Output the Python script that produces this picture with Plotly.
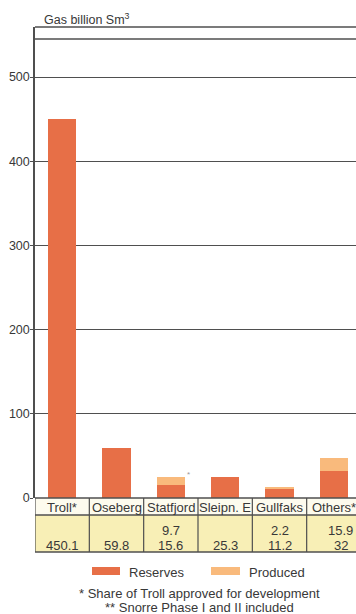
import plotly.graph_objects as go

# Gas reserves by field (billion Sm3)
fields = ["Troll*", "Oseberg", "Statfjord", "Sleipn. E", "Gullfaks", "Others*"]
reserves = [450.1, 59.8, 15.6, 25.3, 11.2, 32]
produced = [None, None, 9.7, None, 2.2, 15.9]
y_ticks = [0, 100, 200, 300, 400, 500]

title_text = "Gas billion Sm<sup>3</sup>"
legend_names = ["Reserves", "Produced"]
footnotes = ["* Share of Troll approved for development",
             "** Snorre Phase I and II included"]

C_RES = "#e76f47"
C_PROD = "#f9ba7c"
C_TABLE = "#f8efb6"
C_HEAD = "#fdfbee"
C_LINE = "#4f4f4f"
C_TEXT = "#383838"
FONT = "Liberation Sans, Arial, sans-serif"

W, H = 356, 614
M_L, M_R, M_T, M_B = 35, 0, 27, 116
PLOT_H = H - M_T - M_B
PLOT_W = W - M_L - M_R


def py(p):
    """pixel row -> paper y"""
    return (H - M_B - p) / PLOT_H


def px(p):
    """pixel column -> paper x"""
    return (p - M_L) / PLOT_W


def label(x, y, text, xref="paper", size=13, xanchor="center", color=C_TEXT, xshift=0):
    return dict(x=x, y=y, xref=xref, yref="paper", text=text, showarrow=False,
                xanchor=xanchor, yanchor="middle", xshift=xshift,
                font=dict(size=size, color=color, family=FONT))


idx = list(range(len(fields)))
fig = go.Figure()
fig.add_trace(go.Bar(x=idx, y=reserves, name=legend_names[0],
                     marker=dict(color=C_RES, line=dict(width=0)),
                     width=0.52, hoverinfo="y"))
fig.add_trace(go.Bar(x=idx, y=[p if p is not None else 0 for p in produced],
                     name=legend_names[1],
                     marker=dict(color=C_PROD, line=dict(width=0)),
                     width=0.52, hoverinfo="y"))

shapes = []
annos = []

# data table below the axis
head_bot, tab_bot = py(515), py(552)
shapes.append(dict(type="rect", xref="x", yref="paper", x0=-0.5, x1=len(fields) - 0.5,
                   y0=0, y1=head_bot, fillcolor=C_HEAD, line=dict(width=0), layer="below"))
shapes.append(dict(type="rect", xref="x", yref="paper", x0=-0.5, x1=len(fields) - 0.5,
                   y0=head_bot, y1=tab_bot, fillcolor=C_TABLE, line=dict(width=0), layer="below"))
for yy in (0, head_bot, tab_bot):
    shapes.append(dict(type="line", xref="x", yref="paper", x0=-0.5, x1=len(fields) - 0.5,
                       y0=yy, y1=yy, line=dict(color=C_LINE, width=1.4)))
for k in range(len(fields) + 1):
    shapes.append(dict(type="line", xref="x", yref="paper", x0=k - 0.5, x1=k - 0.5,
                       y0=0, y1=tab_bot, line=dict(color=C_LINE, width=1.2)))

last = len(fields) - 1
for i, name in enumerate(fields):
    shift = 7 if i == last else 0
    annos.append(label(i, py(507), name, xref="x"))
    annos.append(label(i, py(545), f"{reserves[i]:g}", xref="x", xshift=shift))
    if produced[i] is not None:
        annos.append(label(i, py(530), f"{produced[i]:g}", xref="x", xshift=shift))

# frame at the top of the plot
for yy in (1, py(39)):
    shapes.append(dict(type="line", xref="paper", yref="paper", x0=0, x1=1,
                       y0=yy, y1=yy, line=dict(color=C_LINE, width=1.3)))

# legend swatches
for (x0, x1, tx), name, col in zip([(92, 120, 127), (211, 240, 247)], legend_names, [C_RES, C_PROD]):
    shapes.append(dict(type="rect", xref="paper", yref="paper", x0=px(x0), x1=px(x1),
                       y0=py(575), y1=py(567), fillcolor=col, line=dict(width=0)))
    annos.append(label(px(tx), py(572), name, size=13, xanchor="left"))

for t, yp in zip(footnotes, (593, 607)):
    annos.append(label(px(200), py(yp), t, size=13))

# y-axis title
annos.append(label(px(42), py(19), title_text, size=12.5, xanchor="left"))

# small marker beside the Statfjord bar
annos.append(label(2.33, py(474), "*", xref="x", size=8, color="#9a9a9a"))

fig.update_layout(
    width=W, height=H,
    margin=dict(l=M_L, r=M_R, t=M_T, b=M_B, pad=0),
    paper_bgcolor="white", plot_bgcolor="white",
    barmode="stack", showlegend=False,
    font=dict(family=FONT, color=C_TEXT, size=12),
    xaxis=dict(range=[-0.5, len(fields) - 0.5 - 5 / 54.3], showticklabels=False,
               showgrid=False, zeroline=False, showline=False, ticks="", fixedrange=True),
    yaxis=dict(range=[0, 559.5], tickvals=y_ticks, ticktext=[str(v) for v in y_ticks],
               showgrid=True, gridcolor=C_LINE, gridwidth=1.3, zeroline=False,
               showline=True, linecolor=C_LINE, linewidth=1.5,
               ticks="outside", ticklen=3, tickcolor=C_LINE, tickwidth=1.3,
               ticklabelstandoff=-2,
               tickfont=dict(size=12.5, color=C_TEXT, family=FONT), fixedrange=True),
    shapes=shapes, annotations=annos,
)

fig.write_html("out.html")
